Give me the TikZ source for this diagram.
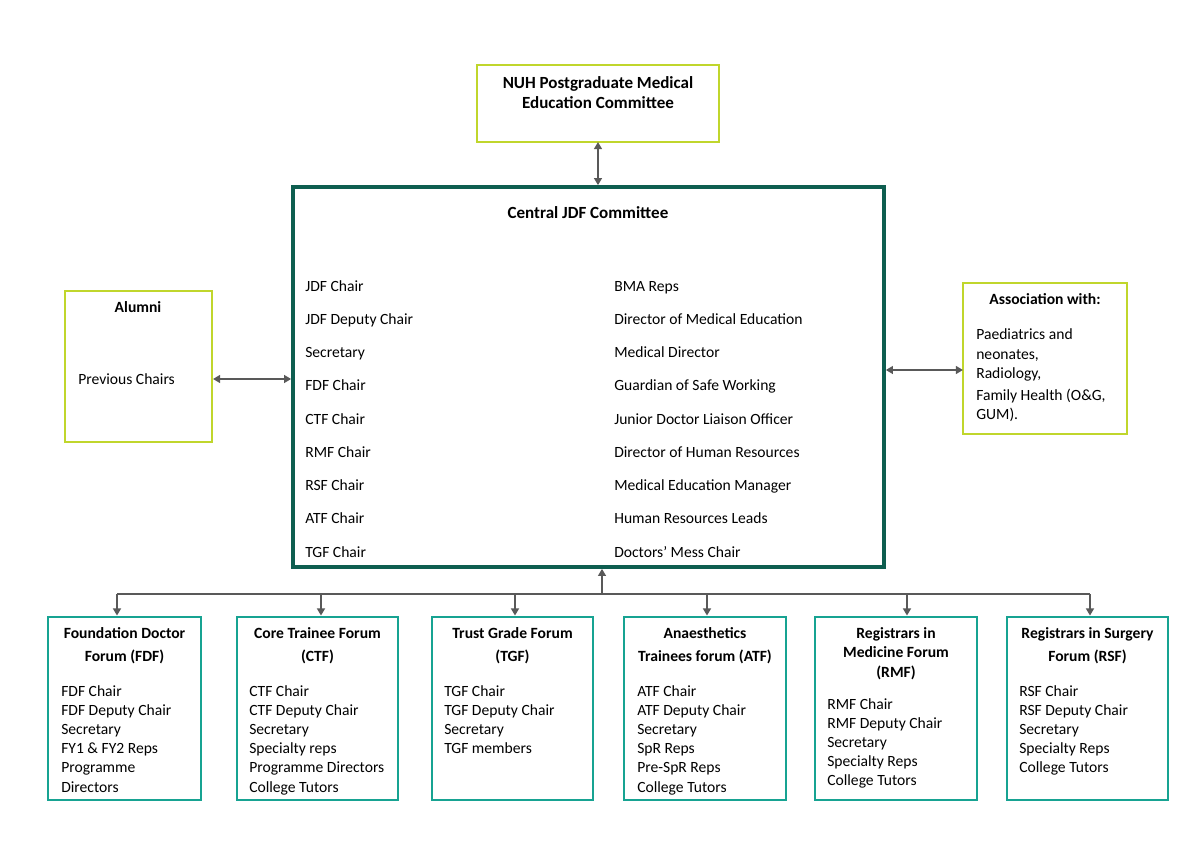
\documentclass[tikz,border=0pt]{standalone}
\usepackage{fontspec}
\setmainfont{Carlito}
\usetikzlibrary{arrows.meta,fit,calc}
\definecolor{limeg}{RGB}{192,214,44}
\definecolor{darkteal}{RGB}{14,94,80}
\definecolor{tealb}{RGB}{23,163,146}
\definecolor{arrowgray}{RGB}{89,89,89}
\begin{document}
\begin{tikzpicture}[x=0.705pt,y=-0.705pt,
  every node/.style={font=\fontsize{11}{13.4}\selectfont, inner sep=0pt},
  limebox/.style={draw=limeg, line width=2pt, inner sep=0pt},
  centralbox/.style={draw=darkteal, line width=2.6pt, inner sep=0pt},
  forumbox/.style={draw=tealb, line width=2pt, inner sep=0pt},
  ttl/.style={anchor=base, font=\fontsize{11}{13.4}\selectfont\bfseries},
  bigttl/.style={anchor=base, font=\fontsize{12}{14.6}\selectfont\bfseries},
  item/.style={anchor=base west},
  conn/.style={draw=arrowgray, line width=1.3pt},
  tip/.style={-{Triangle[length=5pt,width=5.5pt]}},
  dtip/.style={{Triangle[length=5pt,width=5.5pt]}-{Triangle[length=5pt,width=5.5pt]}}
]
\useasboundingbox[fill=white] (0,0) rectangle (1200,844);

% NUH box
\node[limebox, fit={(477,65) (719,142)}] (nuh) {};
\node[bigttl] (nuh1) at (598,88) {NUH Postgraduate Medical};
\node[bigttl] (nuh2) at (598,108) {Education Committee};

% Central box
\node[centralbox, fit={(293,187) (884,567)}] (central) {};
\node[bigttl] (ctitle) at (588,218) {Central JDF Committee};
\foreach \t [count=\i] in {JDF Chair, JDF Deputy Chair, Secretary, FDF Chair, CTF Chair, RMF Chair, RSF Chair, ATF Chair, TGF Chair}
  \node[item] (cl\i) at (305,{291+33.25*(\i-1)}) {\t};
\foreach \t [count=\i] in {BMA Reps, Director of Medical Education, Medical Director, Guardian of Safe Working, Junior Doctor Liaison Officer, Director of Human Resources, Medical Education Manager, Human Resources Leads, Doctors’ Mess Chair}
  \node[item] (cr\i) at (614,{291+33.25*(\i-1)}) {\t};

% Alumni
\node[limebox, fit={(65,291) (212,442)}] (alumni) {};
\node[ttl] (atitle) at (138,312) {Alumni};
\node[item] (prev) at (78,384) {Previous Chairs};

% Association
\node[limebox, fit={(963,283) (1127,434)}] (assoc) {};
\node[ttl] (astitle) at (1045,304) {Association with:};
\node[item] (as1) at (976,339) {Paediatrics and};
\node[item] (as2) at (976,359) {neonates,};
\node[item] (as3) at (976,378) {Radiology,};
\node[item] (as4) at (976,400) {Family Health (O\&G,};
\node[item] (as5) at (976,419) {GUM).};

% Forum boxes
\node[forumbox, fit={(48,617) (201,800)}] (fdf) {};
\node[forumbox, fit={(237,617) (398,800)}] (ctf) {};
\node[forumbox, fit={(432,617) (593,800)}] (tgf) {};
\node[forumbox, fit={(624,617) (786,800)}] (atf) {};
\node[forumbox, fit={(815,617) (977,800)}] (rmf) {};
\node[forumbox, fit={(1007,617) (1168,800)}] (rsf) {};

% FDF
\node[ttl] (fdft1) at (124.5,638) {Foundation Doctor};
\node[ttl] (fdft2) at (124.5,661) {Forum (FDF)};
\foreach \t [count=\i] in {FDF Chair, FDF Deputy Chair, Secretary, FY1 \& FY2 Reps, Programme, Directors}
  \node[item] (fdfi\i) at (61,{696+19.2*(\i-1)}) {\t};
% CTF
\node[ttl] (ctft1) at (317.5,638) {Core Trainee Forum};
\node[ttl] (ctft2) at (317.5,661) {(CTF)};
\foreach \t [count=\i] in {CTF Chair, CTF Deputy Chair, Secretary, Specialty reps, Programme Directors, College Tutors}
  \node[item] (ctfi\i) at (249,{696+19.2*(\i-1)}) {\t};
% TGF
\node[ttl] (tgft1) at (512.5,638) {Trust Grade Forum};
\node[ttl] (tgft2) at (512.5,661) {(TGF)};
\foreach \t [count=\i] in {TGF Chair, TGF Deputy Chair, Secretary, TGF members}
  \node[item] (tgfi\i) at (444,{696+19.2*(\i-1)}) {\t};
% ATF
\node[ttl] (atft1) at (705,638) {Anaesthetics};
\node[ttl] (atft2) at (705,661) {Trainees forum (ATF)};
\foreach \t [count=\i] in {ATF Chair, ATF Deputy Chair, Secretary, SpR Reps, Pre-SpR Reps, College Tutors}
  \node[item] (atfi\i) at (637,{696+19.2*(\i-1)}) {\t};
% RMF
\node[ttl] (rmft1) at (896,638) {Registrars in};
\node[ttl] (rmft2) at (896,657) {Medicine Forum};
\node[ttl] (rmft3) at (896,677) {(RMF)};
\foreach \t [count=\i] in {RMF Chair, RMF Deputy Chair, Secretary, Specialty Reps, College Tutors}
  \node[item] (rmfi\i) at (827,{709+19.2*(\i-1)}) {\t};
% RSF
\node[ttl] (rsft1) at (1087.5,638) {Registrars in Surgery};
\node[ttl] (rsft2) at (1087.5,661) {Forum (RSF)};
\foreach \t [count=\i] in {RSF Chair, RSF Deputy Chair, Secretary, Specialty Reps, College Tutors}
  \node[item] (rsfi\i) at (1019,{696+19.2*(\i-1)}) {\t};

% Connectors
\draw[conn, dtip] (598,142) coordinate (nuhs) -- (nuhs |- central.north);
\coordinate (alp) at (213,379);
\draw[conn, dtip] (alp) -- (alp -| central.west);
\coordinate (asp) at (963,370);
\draw[conn, dtip] (asp) -- (asp -| central.east);

\coordinate (bus) at (602,594);
\draw[conn, tip] (bus) -- (bus |- central.south);
\coordinate (b1) at (117,594);
\coordinate (b2) at (321,594);
\coordinate (b3) at (515,594);
\coordinate (b4) at (707,594);
\coordinate (b5) at (907,594);
\coordinate (b6) at (1090,594);
\draw[conn] (b1) -- (b6);
\draw[conn, tip] (b1) -- (b1 |- fdf.north);
\draw[conn, tip] (b2) -- (b2 |- ctf.north);
\draw[conn, tip] (b3) -- (b3 |- tgf.north);
\draw[conn, tip] (b4) -- (b4 |- atf.north);
\draw[conn, tip] (b5) -- (b5 |- rmf.north);
\draw[conn, tip] (b6) -- (b6 |- rsf.north);
\end{tikzpicture}
\end{document}
